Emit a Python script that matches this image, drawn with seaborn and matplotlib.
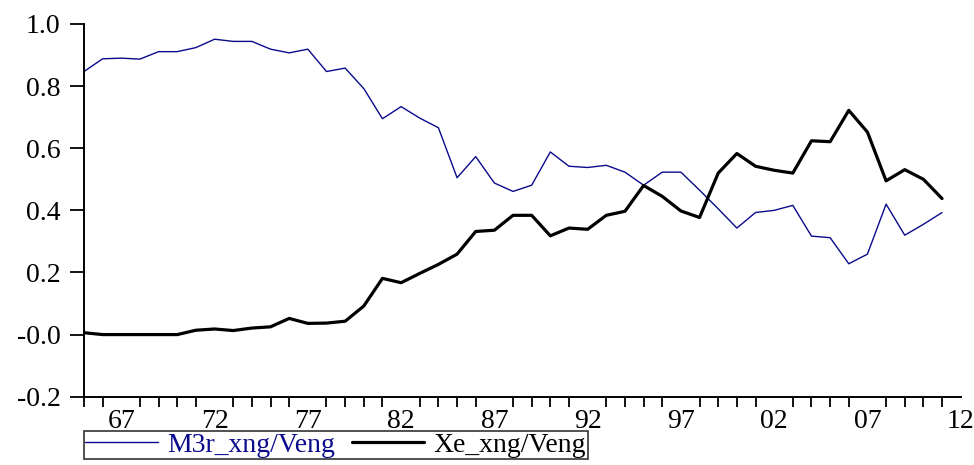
import numpy as np
import pandas as pd
import matplotlib
matplotlib.use('Agg')
import matplotlib.pyplot as plt
from matplotlib.ticker import FixedLocator
import seaborn as sns

# === DATA ===
years = list(range(1965, 2012))
m3r_xng_veng = [0.847, 0.888, 0.890, 0.887, 0.911, 0.911, 0.924, 0.951, 0.944, 0.944,
                0.919, 0.907, 0.919, 0.847, 0.858, 0.792, 0.695, 0.734, 0.697, 0.666,
                0.505, 0.573, 0.488, 0.461, 0.481, 0.588, 0.542, 0.538, 0.545, 0.523,
                0.481, 0.523, 0.523, 0.465, 0.405, 0.343, 0.393, 0.400, 0.416, 0.317,
                0.312, 0.228, 0.259, 0.420, 0.320, 0.355, 0.393]
xe_xng_veng = [0.006, 0.000, 0.000, 0.000, 0.000, 0.000, 0.014, 0.018, 0.013, 0.021,
               0.025, 0.052, 0.036, 0.037, 0.043, 0.092, 0.181, 0.167, 0.197, 0.226,
               0.259, 0.332, 0.336, 0.384, 0.384, 0.318, 0.343, 0.339, 0.384, 0.397,
               0.480, 0.445, 0.398, 0.377, 0.520, 0.583, 0.542, 0.529, 0.520, 0.624,
               0.621, 0.722, 0.652, 0.495, 0.531, 0.500, 0.438]
label_years = [1967, 1972, 1977, 1982, 1987, 1992, 1997, 2002, 2007, 2012]
x_labels = ['67', '72', '77', '82', '87', '92', '97', '02', '07', '12']
y_ticks = [1.0, 0.8, 0.6, 0.4, 0.2, 0.0, -0.2]
y_labels = ['1.0', '0.8', '0.6', '0.4', '0.2', '-0.0', '-0.2']

df = pd.DataFrame({'year': years, 'M3r_xng/Veng': m3r_xng_veng, 'Xe_xng/Veng': xe_xng_veng})

# === STYLE ===
sns.set_theme(style="white")
plt.rcParams['font.family'] = ['Liberation Serif', 'DejaVu Serif']
plt.rcParams['font.size'] = 20

BLUE = '#0a0a8c'

fig = plt.figure(figsize=(9.74, 4.65), dpi=100)
ax = fig.add_axes([84 / 974, (465 - 396.7) / 465, (960.7 - 84) / 974, (396.7 - 24) / 465])

sns.lineplot(data=df, x='year', y='M3r_xng/Veng', ax=ax, color=BLUE, linewidth=1.0,
             label='M3r_xng/Veng')
sns.lineplot(data=df, x='year', y='Xe_xng/Veng', ax=ax, color='black', linewidth=2.3,
             label='Xe_xng/Veng')

ax.set_xlim(1965, 2012)
ax.set_ylim(-0.2, 1.0)
ax.set_xlabel('')
ax.set_ylabel('')

for s in ['top', 'right']:
    ax.spines[s].set_visible(False)
for s in ['left', 'bottom']:
    ax.spines[s].set_color('black')
    ax.spines[s].set_linewidth(1.4)

ax.set_yticks(y_ticks)
ax.set_yticklabels(y_labels)
ax.tick_params(axis='y', direction='out', length=10, width=1.3, color='black',
               pad=7, labelsize=20, labelcolor='black', left=True)

ax.set_xticks(label_years)
ax.set_xticklabels(x_labels)
ax.xaxis.set_minor_locator(FixedLocator(years))
ax.tick_params(axis='x', which='major', length=0, pad=9, labelsize=20, labelcolor='black')
ax.tick_params(axis='x', which='minor', direction='out', length=7, width=1.3,
               color='black', bottom=True)

# legend box below the axis, bottom edge runs off the picture like the original
leg = ax.legend(loc='upper left', bbox_to_anchor=(84 / 974, (465 - 431) / 465),
                bbox_transform=fig.transFigure, borderaxespad=0, ncol=2, fancybox=False,
                frameon=True, fontsize=20, handlelength=2.6, handletextpad=0.35,
                columnspacing=0.6, borderpad=0.05)
leg.get_frame().set_edgecolor('black')
leg.get_frame().set_linewidth(1.2)
leg.get_texts()[0].set_color(BLUE)
leg.get_texts()[1].set_color('black')

fig.savefig('out.png', dpi=100)
